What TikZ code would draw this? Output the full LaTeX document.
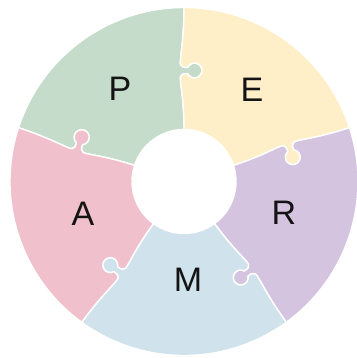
\documentclass[tikz,border=0pt]{standalone}
\usepackage{fontspec}
\setmainfont{Liberation Sans}
\usetikzlibrary{positioning}

\definecolor{plancol}{HTML}{C5DCCB}
\definecolor{execcol}{HTML}{FFEFC9}
\definecolor{revcol}{HTML}{D5C4E0}
\definecolor{monicol}{HTML}{D0E2EC}
\definecolor{actcol}{HTML}{F0C1CC}

\begin{document}
\begin{tikzpicture}[
    x=1pt, y=1pt,
    piece/.style={draw=white, line width=1.4pt, line join=round},
    % one ring piece, knob on its lower edge, hole on its upper edge
    piece shape/.style={insert path={
      (52,0) .. controls (85,0) and (100,4.5) .. (105,3.5)
      .. controls (107.5,3) and (108,0) .. (107.83,-3.7)
      arc[start angle=115, end angle=425, radius=7.5]
      .. controls (114,0) and (114.5,3) .. (117,3.5)
      .. controls (122,4.5) and (140,0) .. (174,0)
      arc[start angle=0, end angle=72, radius=174]
      .. controls ([rotate=72]140,0) and ([rotate=72]122,4.5) .. ([rotate=72]117,3.5)
      .. controls ([rotate=72]114.5,3) and ([rotate=72]114,0) .. ([rotate=72]114.17,-3.7)
      arc[start angle=497, end angle=187, radius=7.5]
      .. controls ([rotate=72]108,0) and ([rotate=72]107.5,3) .. ([rotate=72]105,3.5)
      .. controls ([rotate=72]100,4.5) and ([rotate=72]85,0) .. ([rotate=72]52,0)
      arc[start angle=72, end angle=0, radius=52] -- cycle}},
    letter/.style={font=\fontsize{34}{34}\selectfont, text=black!92}
]

\useasboundingbox (-184,-176.5) rectangle (172,181.5);

% Ring pieces, turned by 72 degrees each
\foreach \ang/\col in {90/plancol, 18/execcol, -54/revcol, -126/monicol, 162/actcol}
  \filldraw[piece, fill=\col, rotate=\ang, piece shape];

% Letters
\node[letter] (P) at (-64,92.5) {P};
\node[letter] (E) at (68,91.5) {E};
\node[letter] (R) at (100,-31.5) {R};
\node[letter] (M) at (4,-98.5) {M};
\node[letter] (A) at (-101,-32.5) {A};

\end{tikzpicture}
\end{document}
